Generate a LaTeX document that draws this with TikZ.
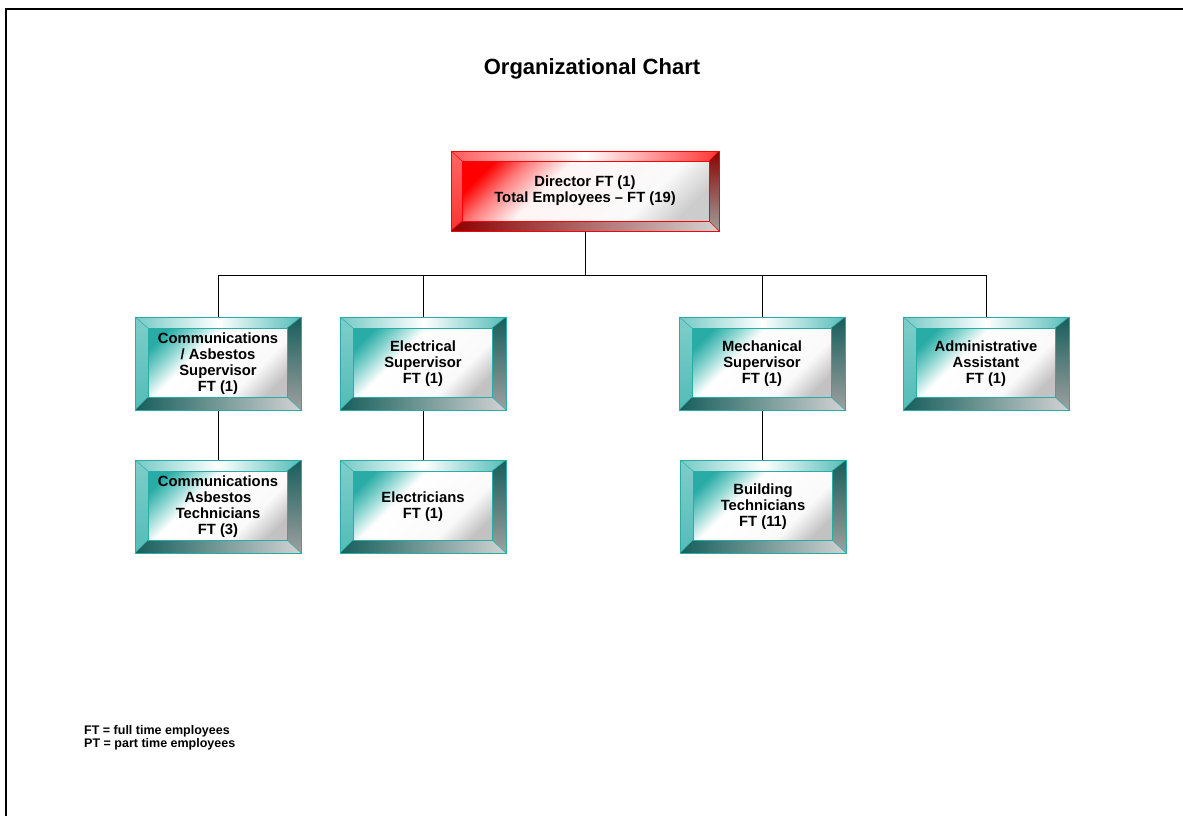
\documentclass[tikz,border=0pt]{standalone}
\usepackage{fontspec}
\setmainfont{Liberation Sans}
\usetikzlibrary{calc}
\definecolor{boxteal}{RGB}{40,172,166}
\definecolor{boxred}{RGB}{255,0,0}
\pgfdeclarehorizontalshading{facetboxteal}{100bp}{rgb(0bp)=(0.16,0.67,0.65); rgb(22bp)=(0.16,0.67,0.65); rgb(30bp)=(0.5,0.82,0.80); rgb(40bp)=(1,1,1); rgb(66bp)=(0.98,0.98,0.98); rgb(78bp)=(0.76,0.76,0.76); rgb(100bp)=(0.76,0.76,0.76)}
\pgfdeclarehorizontalshading{facetboxred}{100bp}{rgb(0bp)=(1,0,0); rgb(22bp)=(1,0,0); rgb(30bp)=(1,0.5,0.5); rgb(40bp)=(1,0.96,0.96); rgb(66bp)=(0.98,0.98,0.98); rgb(78bp)=(0.8,0.8,0.8); rgb(100bp)=(0.8,0.8,0.8)}
\newcommand\bevelfill[1]{%
  \path (path picture bounding box.north west) coordinate (A)
        (path picture bounding box.north east) coordinate (B)
        (path picture bounding box.south east) coordinate (C)
        (path picture bounding box.south west) coordinate (D);
  \path ($(A)+(\bevl pt,-\bevt pt)$) coordinate (a)
        ($(B)+(-\bevr pt,-\bevt pt)$) coordinate (b)
        ($(C)+(-\bevr pt,\bevb pt)$) coordinate (c)
        ($(D)+(\bevl pt,\bevb pt)$) coordinate (d);
  \shade[left color=#1!65, right color=#1!80, middle color=white] (A)--(B)--(b)--(a)--cycle;
  \shade[top color=#1!60, bottom color=#1!80] (A)--(a)--(d)--(D)--cycle;
  \shade[top color=#1!55!black, bottom color=gray!75] (B)--(C)--(c)--(b)--cycle;
  \shade[left color=#1!55!black, right color=gray!35] (D)--(d)--(c)--(C)--cycle;
  \shade[shading=facet#1, shading angle=-45] (a) rectangle (c);
  \draw[#1, line width=0.8pt] (a) rectangle (c);
  \draw[#1, line width=0.5pt] (A)--(a) (B)--(b) (C)--(c) (D)--(d);
}
\tikzset{
  bevl/.store in=\bevl, bevt/.store in=\bevt, bevr/.store in=\bevr, bevb/.store in=\bevb,
  bevl=13, bevt=11, bevr=14, bevb=13,
  bbox/.style={rectangle, draw=#1, line width=1pt, minimum width=166pt, minimum height=93pt,
    inner sep=0pt, align=center, font=\bfseries\fontsize{14.8}{16}\selectfont,
    path picture={\bevelfill{#1}}},
  conn/.style={draw=black, line width=1pt},
}
\begin{document}
\begin{tikzpicture}[x=1pt,y=-1pt]
\useasboundingbox (0,0) rectangle (1183,816);
\draw[line width=1.6pt] (6,816) -- (6,9) -- (1183,9);

\node[font=\bfseries\fontsize{22}{26}\selectfont] (title) at (592,69) {Organizational Chart};

\node[bbox=boxred, minimum width=268pt, minimum height=80pt, bevl=11, bevt=10, bevr=10, bevb=10] (dir) at (585,191)
  {Director FT (1)\\Total Employees -- FT (19)};

\node[bbox=boxteal] (cs) at (218,363.5) {Communications\\/ Asbestos\\Supervisor\\FT (1)};
\node[bbox=boxteal] (es) at (423,363.5) {Electrical\\Supervisor\\FT (1)};
\node[bbox=boxteal] (ms) at (762,363.5) {Mechanical\\Supervisor\\FT (1)};
\node[bbox=boxteal] (aa) at (986,363.5) {Administrative\\Assistant\\FT (1)};

\node[bbox=boxteal] (ct) at (218,506.5) {Communications\\Asbestos\\Technicians\\FT (3)};
\node[bbox=boxteal] (el) at (423,506.5) {Electricians\\FT (1)};
\node[bbox=boxteal] (bt) at (763,506.5) {Building\\Technicians\\FT (11)};

\coordinate (bus) at (585,275);
\draw[conn] (dir.south) -- (bus);
\draw[conn] (cs.north) -- (cs.north |- bus) -- (aa.north |- bus) -- (aa.north);
\draw[conn] (es.north) -- (es.north |- bus);
\draw[conn] (ms.north) -- (ms.north |- bus);
\draw[conn] (cs.south) -- (ct.north);
\draw[conn] (es.south) -- (el.north);
\draw[conn] (ms.south) -- (ms.south |- bt.north);

\node[anchor=base west, align=left, font=\bfseries\fontsize{12.5}{11.5}\selectfont, inner sep=0pt] (legend) at (84,747)
  {FT = full time employees\\PT = part time employees};
\end{tikzpicture}
\end{document}
